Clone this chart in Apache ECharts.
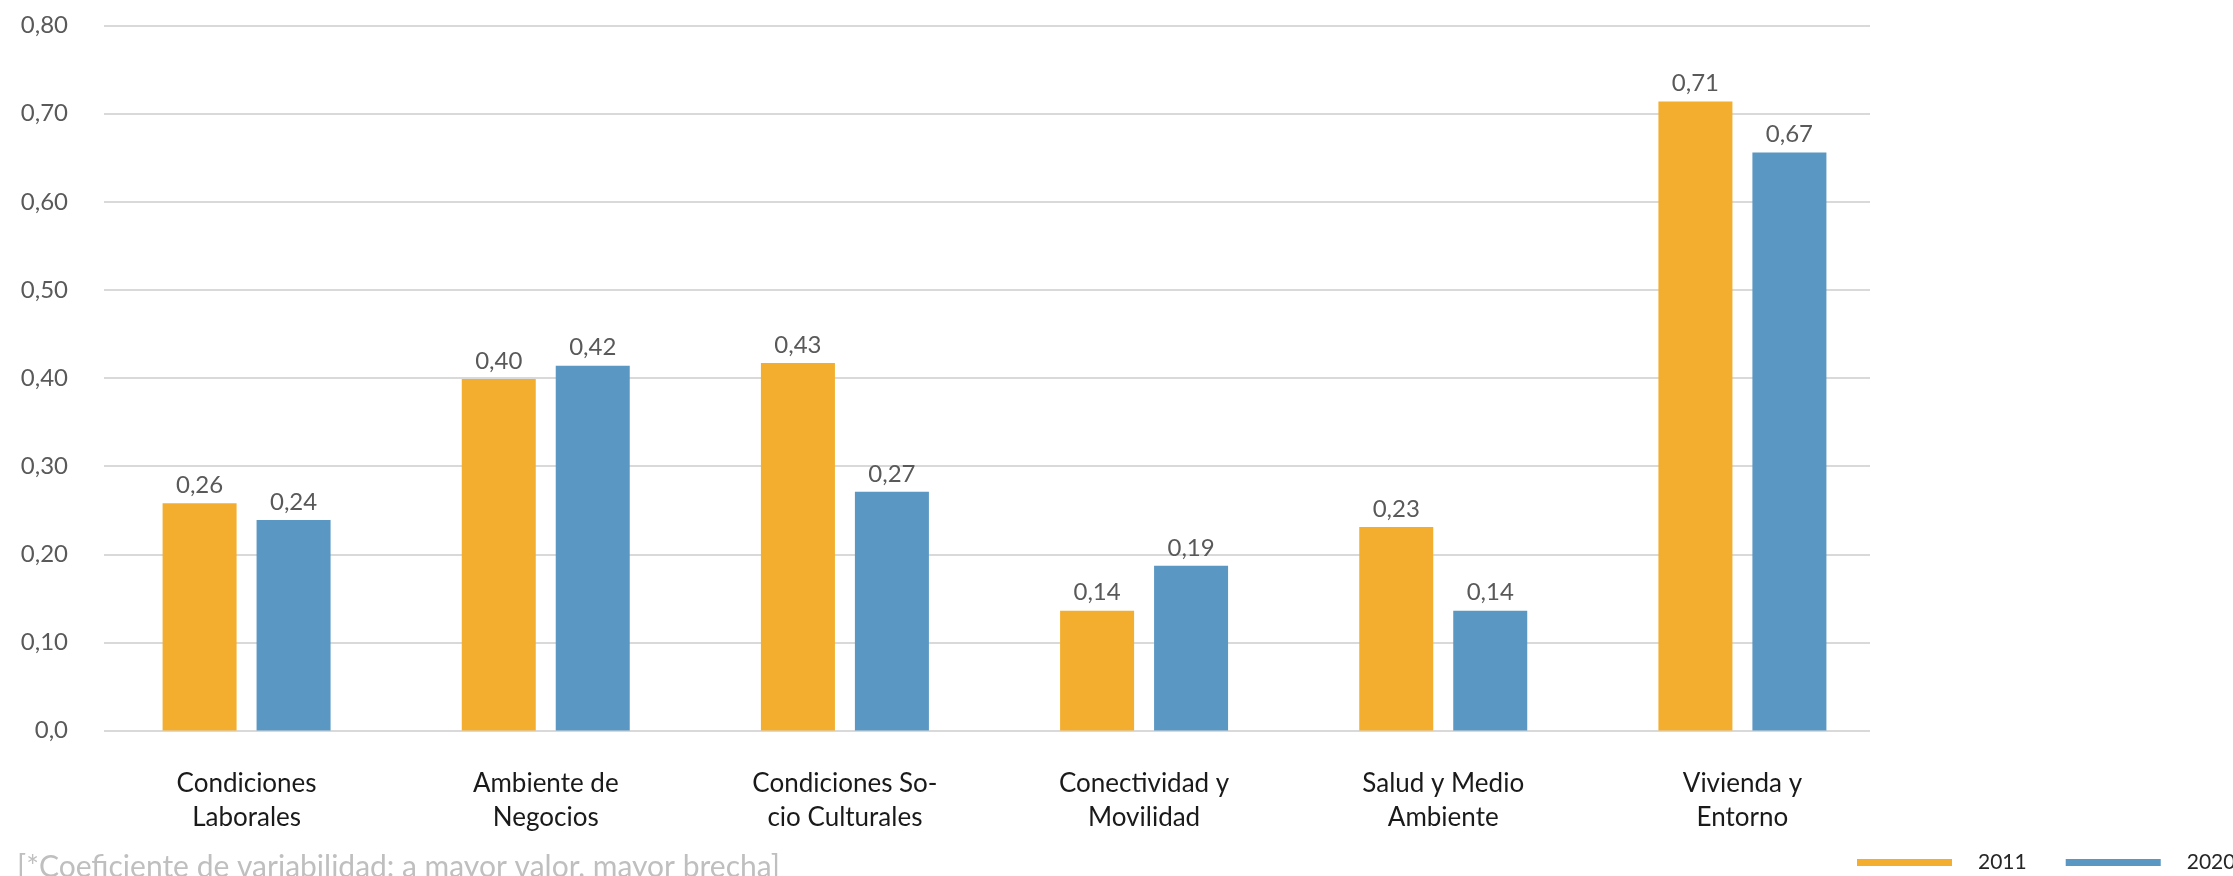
<!DOCTYPE html>
<html>
<head>
<meta charset="utf-8">
<script src="https://cdn.jsdelivr.net/npm/echarts@6/dist/echarts.min.js"></script>
<style>
html,body{margin:0;padding:0;background:#fff;}
#chart{width:2233px;height:876px;}
</style>
</head>
<body>
<div id="chart"></div>
<script>
var categories = [
  "Condiciones\nLaborales",
  "Ambiente de\nNegocios",
  "Condiciones So-\ncio Culturales",
  "Conectividad y\nMovilidad",
  "Salud y Medio\nAmbiente",
  "Vivienda y\nEntorno"
];
var seriesNames = ["2011", "2020"];
var values2011 = [0.258, 0.399, 0.417, 0.136, 0.231, 0.714];
var values2020 = [0.239, 0.414, 0.271, 0.187, 0.136, 0.656];
var labels2011 = ["0,26", "0,40", "0,43", "0,14", "0,23", "0,71"];
var labels2020 = ["0,24", "0,42", "0,27", "0,19", "0,14", "0,67"];
var yTickLabels = ["0,0", "0,10", "0,20", "0,30", "0,40", "0,50", "0,60", "0,70", "0,80"];
var footnote = "[*Coeficiente de variabilidad: a mayor valor, mayor brecha]";

var FONT = "Lato, 'Open Sans', sans-serif";
var chart = echarts.init(document.getElementById('chart'), null, {renderer: 'canvas'});

function barLabel(arr) {
  return {
    show: true,
    position: 'top',
    distance: 6,
    fontFamily: FONT,
    fontSize: 24,
    color: '#595959',
    formatter: function (p) { return arr[p.dataIndex]; }
  };
}

var option = {
  backgroundColor: '#ffffff',
  animation: false,
  grid: [
    {left: 97, right: 341, top: 25.6, bottom: 145.4},
    {left: 104, right: 363, top: 25.6, bottom: 145.4}
  ],
  legend: {
    data: seriesNames,
    icon: 'rect',
    itemWidth: 95,
    itemHeight: 7,
    itemGap: 39,
    left: 1857,
    top: 852,
    width: 600,
    padding: 0,
    textStyle: {
      fontFamily: FONT,
      fontSize: 21,
      color: '#262626',
      padding: [0, 0, 0, 21]
    }
  },
  xAxis: [
    {
      type: 'category',
      gridIndex: 0,
      data: categories,
      axisLine: {show: false},
      axisTick: {show: false},
      axisLabel: {
        interval: 0,
        margin: 36,
        fontFamily: FONT,
        fontSize: 26,
        lineHeight: 34,
        color: '#1a1a1a'
      }
    },
    {
      type: 'value',
      gridIndex: 1,
      show: false
    }
  ],
  yAxis: [
    {
      type: 'value',
      gridIndex: 0,
      min: 0, max: 0.8, interval: 0.1,
      show: false
    },
    {
      type: 'value',
      gridIndex: 1,
      min: 0, max: 0.8, interval: 0.1,
      axisLine: {show: false},
      axisTick: {show: false},
      splitLine: {lineStyle: {color: '#d9d9d9', width: 2}},
      axisLabel: {
        margin: 36,
        fontFamily: FONT,
        fontSize: 24,
        color: '#595959',
        formatter: function (v) { return yTickLabels[Math.round(v * 10)]; }
      }
    }
  ],
  series: [
    {
      name: seriesNames[0],
      type: 'bar',
      xAxisIndex: 0,
      yAxisIndex: 0,
      data: values2011,
      barWidth: 74,
      barGap: '27%',
      itemStyle: {color: '#f3ae2f'},
      label: barLabel(labels2011)
    },
    {
      name: seriesNames[1],
      type: 'bar',
      xAxisIndex: 0,
      yAxisIndex: 0,
      data: values2020,
      barWidth: 74,
      barGap: '27%',
      itemStyle: {color: '#5a97c3'},
      label: barLabel(labels2020)
    }
  ],
  graphic: [
    {
      type: 'text',
      left: 17,
      top: 852,
      style: {
        text: footnote,
        fontFamily: FONT,
        fontSize: 30,
        fill: '#bfbfbf'
      }
    }
  ]
};
chart.setOption(option);
</script>
</body>
</html>
